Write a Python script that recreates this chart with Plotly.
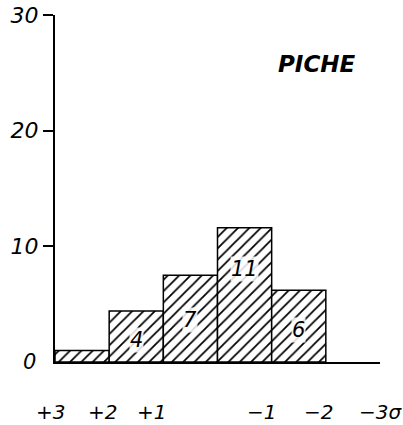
import plotly.graph_objects as go

# ---- data ----
bin_centers = [0.5, 1.5, 2.5, 3.5, 4.5]
counts = [1.0, 4.4, 7.5, 11.6, 6.2]
bar_labels = ["", "4", "7", "11", "6"]
x_tick_pos = [-0.09, 0.87, 1.79, 3.82, 4.86, 6.0]
x_tick_text = ["+3", "+2", "+1", "−1", "−2", "−3σ"]
y_tick_vals = [10, 20, 30]
title_text = "PICHE"

FONT = "DejaVu Sans"
X_RANGE = [0, 6]

fig = go.Figure()
fig.add_trace(go.Bar(
    x=bin_centers, y=counts, width=1.0,
    marker=dict(
        color="white",
        line=dict(color="black", width=1.5),
        pattern=dict(shape="/", fgcolor="black", bgcolor="white", size=8, solidity=0.22,
                     fgopacity=1),
    ),
    hoverinfo="skip",
))

label_frac = [0.5, 0.43, 0.48, 0.69, 0.45]
annotations = []
for xc, v, t, f in zip(bin_centers, counts, bar_labels, label_frac):
    if t:
        annotations.append(dict(x=xc, y=v * f, xref="x", yref="y", text=t, showarrow=False,
                                font=dict(family=FONT, size=21, color="black", style="italic"),
                                bgcolor="rgba(255,255,255,0.85)", borderpad=0))
for xp, t in zip(x_tick_pos, x_tick_text):
    xfrac = (xp - X_RANGE[0]) / (X_RANGE[1] - X_RANGE[0])
    annotations.append(dict(x=xfrac, y=0, xref="paper", yref="paper", text=t, showarrow=False,
                            xanchor="center", yanchor="middle", yshift=-50,
                            font=dict(family=FONT, size=20, color="black", style="italic")))
annotations.append(dict(x=0, y=0, xref="paper", yref="y", text="0", showarrow=False,
                        xanchor="right", xshift=-17,
                        font=dict(family=FONT, size=21, color="black", style="italic")))
annotations.append(dict(x=0.806, y=0.859, xref="paper", yref="paper", text="<b>" + title_text + "</b>",
                        showarrow=False, xanchor="center", yanchor="middle",
                        font=dict(family=FONT, size=23, color="black", style="italic")))

fig.update_layout(
    width=403, height=425,
    margin=dict(l=55, r=23, t=15, b=63, autoexpand=False),
    paper_bgcolor="white", plot_bgcolor="white",
    showlegend=False,
    annotations=annotations,
    xaxis=dict(range=X_RANGE, showline=True, linecolor="black", linewidth=2,
               showticklabels=False, ticks="", showgrid=False, zeroline=False, fixedrange=True,
               automargin=False),
    yaxis=dict(range=[0, 30], showline=True, linecolor="black", linewidth=2,
               tickvals=y_tick_vals, ticks="outside", ticklen=10, tickwidth=1.5, tickcolor="black",
               tickfont=dict(family=FONT, size=22, color="black", style="italic"),
               showgrid=False, zeroline=False, fixedrange=True, automargin=False),
)

fig.write_html("out.html")
